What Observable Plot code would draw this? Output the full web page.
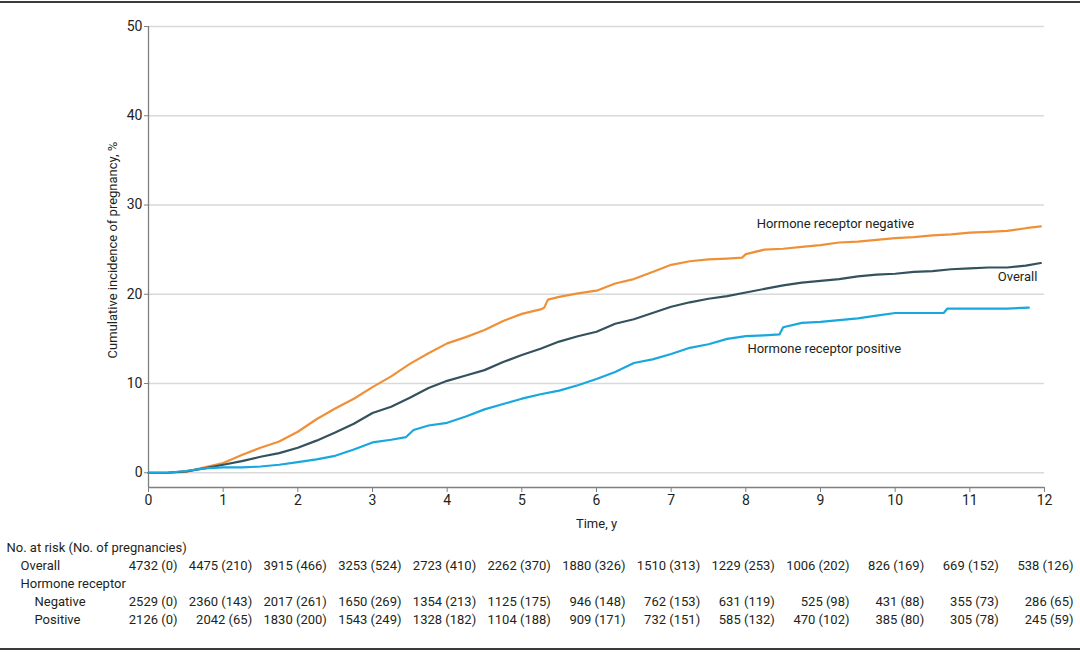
<!DOCTYPE html>
<html>
<head>
<meta charset="utf-8">
<script src="https://cdn.jsdelivr.net/npm/d3@7"></script>
<script src="https://cdn.jsdelivr.net/npm/@observablehq/plot@0.6"></script>
<style>
  html, body { margin: 0; padding: 0; background: #fff; }
  #wrap {
    position: absolute; left: 0; top: 1px; width: 1080px;
    border-top: 2px solid #3a3a3a; border-bottom: 2px solid #3a3a3a;
    font-family: Roboto, sans-serif;
  }
  #wrap svg { display: block; }
</style>
</head>
<body>
<div id="wrap"></div>
<script>
// ---- Curve data (time in years, cumulative incidence %) ----
const negT = [0,0.25,0.5,0.6,0.75,1.0,1.25,1.5,1.75,2.0,2.25,2.5,2.75,3.0,3.25,3.5,3.75,4.0,4.25,4.5,4.75,5.0,5.25,5.3,5.35,5.5,5.75,6.0,6.25,6.5,6.75,7.0,7.25,7.5,7.75,7.95,8.0,8.25,8.5,8.75,9.0,9.25,9.5,9.75,10.0,10.25,10.5,10.75,11.0,11.25,11.5,11.75,11.95];
const negV = [0,0,0.1,0.3,0.6,1.1,2.0,2.8,3.5,4.6,6.0,7.2,8.3,9.6,10.8,12.2,13.4,14.5,15.2,16.0,17.0,17.8,18.3,18.5,19.4,19.7,20.1,20.4,21.2,21.7,22.5,23.3,23.7,23.9,24.0,24.1,24.5,25.0,25.1,25.3,25.5,25.8,25.9,26.1,26.3,26.4,26.6,26.7,26.9,27.0,27.1,27.4,27.6];

const allT = [0,0.25,0.5,0.75,1.0,1.25,1.5,1.75,2.0,2.25,2.5,2.75,3.0,3.25,3.5,3.75,4.0,4.25,4.5,4.75,5.0,5.25,5.5,5.75,6.0,6.25,6.5,6.75,7.0,7.25,7.5,7.75,8.0,8.25,8.5,8.75,9.0,9.25,9.5,9.75,10.0,10.25,10.5,10.75,11.0,11.25,11.5,11.75,11.95];
const allV = [0,0,0.15,0.5,0.9,1.3,1.8,2.2,2.8,3.6,4.5,5.5,6.7,7.4,8.4,9.5,10.3,10.9,11.5,12.4,13.2,13.9,14.7,15.3,15.8,16.7,17.2,17.9,18.6,19.1,19.5,19.8,20.2,20.6,21.0,21.3,21.5,21.7,22.0,22.2,22.3,22.5,22.6,22.8,22.9,23.0,23.0,23.2,23.5];

const posT = [0,0.25,0.5,0.75,1.0,1.25,1.5,1.75,2.0,2.25,2.5,2.75,3.0,3.25,3.45,3.55,3.75,4.0,4.25,4.5,4.75,5.0,5.25,5.5,5.75,6.0,6.25,6.5,6.75,7.0,7.25,7.5,7.75,8.0,8.25,8.45,8.5,8.75,9.0,9.25,9.5,9.75,10.0,10.25,10.5,10.65,10.7,11.0,11.5,11.79];
const posV = [0,0,0.2,0.5,0.6,0.6,0.7,0.9,1.2,1.5,1.9,2.6,3.4,3.7,4.0,4.8,5.3,5.6,6.3,7.1,7.7,8.3,8.8,9.2,9.8,10.5,11.3,12.3,12.7,13.3,14.0,14.4,15.0,15.3,15.4,15.5,16.3,16.8,16.9,17.1,17.3,17.6,17.9,17.9,17.9,17.9,18.4,18.4,18.4,18.5];

const seriesNames = ["Hormone receptor negative", "Overall", "Hormone receptor positive"];
const seriesColors = ["#ef9038", "#34525e", "#18a8de"];

// ---- In-chart labels ----
const labelText = ["Hormone receptor negative", "Overall", "Hormone receptor positive"];
const labelX = [9.2, 11.64, 9.05];
const labelY = [27.9, 21.9, 13.9];

// ---- Axes ----
const xTicks = [0,1,2,3,4,5,6,7,8,9,10,11,12];
const yTicks = [0,10,20,30,40,50];
const yDomain = [-1.65, 50];
const xLabel = "Time, y";
const yLabel = "Cumulative incidence of pregnancy, %";

// ---- Number at risk table ----
const tableYears = [0,1,2,3,4,5,6,7,8,9,10,11,12];
const overallRisk = [4732,4475,3915,3253,2723,2262,1880,1510,1229,1006,826,669,538];
const overallEvents = [0,210,466,524,410,370,326,313,253,202,169,152,126];
const negRisk = [2529,2360,2017,1650,1354,1125,946,762,631,525,431,355,286];
const negEvents = [0,143,261,269,213,175,148,153,119,98,88,73,65];
const posRisk = [2126,2042,1830,1543,1328,1104,909,732,585,470,385,305,245];
const posEvents = [0,65,200,249,182,188,171,151,132,102,80,78,59];
const rowKeys = ["header", "overall", "hr", "neg", "pos"];
const rowLabels = ["No. at risk (No. of pregnancies)", "Overall", "Hormone receptor", "Negative", "Positive"];
const rowLevel = [0, 1, 1, 2, 2];

// ---- Build data tables ----
const curves = [];
[[negT, negV], [allT, allV], [posT, posV]].forEach(([ts, vs], i) => {
  ts.forEach((t, j) => curves.push({series: seriesNames[i], t, v: vs[j]}));
});
const labels = labelText.map((text, i) => ({text, x: labelX[i], y: labelY[i]}));

const W = 1080, ML = 148, MR = 36;
const font = "Roboto, sans-serif";
const FS = 13;
const axisColor = "#808080";
const textColor = "#231f20";

const main = Plot.plot({
  width: W,
  height: 532,
  marginLeft: ML,
  marginRight: MR,
  marginTop: 23,
  marginBottom: 48,
  style: {fontFamily: font, fontSize: FS + "px", color: textColor, background: "#fff"},
  x: {domain: [0, 12]},
  y: {domain: yDomain},
  color: {domain: seriesNames, range: seriesColors},
  marks: [
    Plot.gridY(yTicks, {stroke: "#d9d9d9", strokeOpacity: 1, strokeWidth: 1.3}),
    Plot.ruleY([yDomain[0]], {stroke: axisColor, strokeWidth: 1.3}),
    Plot.ruleX([0], {stroke: axisColor, strokeWidth: 1.3}),
    Plot.axisY(yTicks, {tickSize: 4, tickPadding: 2, stroke: axisColor, fill: textColor, fontSize: 14, label: null}),
    Plot.axisX(xTicks, {tickSize: 5, tickPadding: 3, stroke: axisColor, fill: textColor, fontSize: 14, label: null}),
    Plot.text([xLabel], {frameAnchor: "bottom", dy: 40, text: d => d, fill: textColor, fontSize: FS}),
    Plot.text([yLabel], {frameAnchor: "left", textAnchor: "middle", dx: -36, dy: -7, rotate: -90, text: d => d, fill: textColor, fontSize: FS}),
    Plot.line(curves, {x: "t", y: "v", z: "series", stroke: "series", strokeWidth: 2.2, curve: "linear"}),
    Plot.text(labels, {x: "x", y: "y", text: "text", textAnchor: "middle", fill: textColor, fontSize: FS})
  ]
});

const cells = [];
const tableRows = [["overall", overallRisk, overallEvents], ["neg", negRisk, negEvents], ["pos", posRisk, posEvents]];
tableRows.forEach(([row, risk, ev]) => {
  tableYears.forEach((yr, i) => cells.push({row, x: yr, text: `${risk[i]} (${ev[i]})`}));
});
const rowLabelData = rowKeys.map((row, i) => ({row, text: rowLabels[i], level: rowLevel[i]}));
const indentDx = [-142, -128, -114];

const table = Plot.plot({
  width: W,
  height: 113,
  marginLeft: ML,
  marginRight: MR,
  marginTop: 0,
  marginBottom: 0,
  style: {fontFamily: font, fontSize: FS + "px", color: textColor, background: "#fff"},
  x: {domain: [0, 12], axis: null},
  y: {type: "point", domain: rowKeys, range: [11, 85], padding: 0, axis: null},
  marks: [
    Plot.text(cells, {x: "x", y: "row", text: "text", textAnchor: "end", dx: 29, fill: textColor, fontSize: FS}),
    ...indentDx.map((dx, lvl) =>
      Plot.text(rowLabelData.filter(d => d.level === lvl), {y: "row", text: "text", frameAnchor: "left", textAnchor: "start", dx, fill: textColor, fontSize: FS}))
  ]
});

const wrap = document.getElementById("wrap");
wrap.appendChild(main);
wrap.appendChild(table);
</script>
</body>
</html>
